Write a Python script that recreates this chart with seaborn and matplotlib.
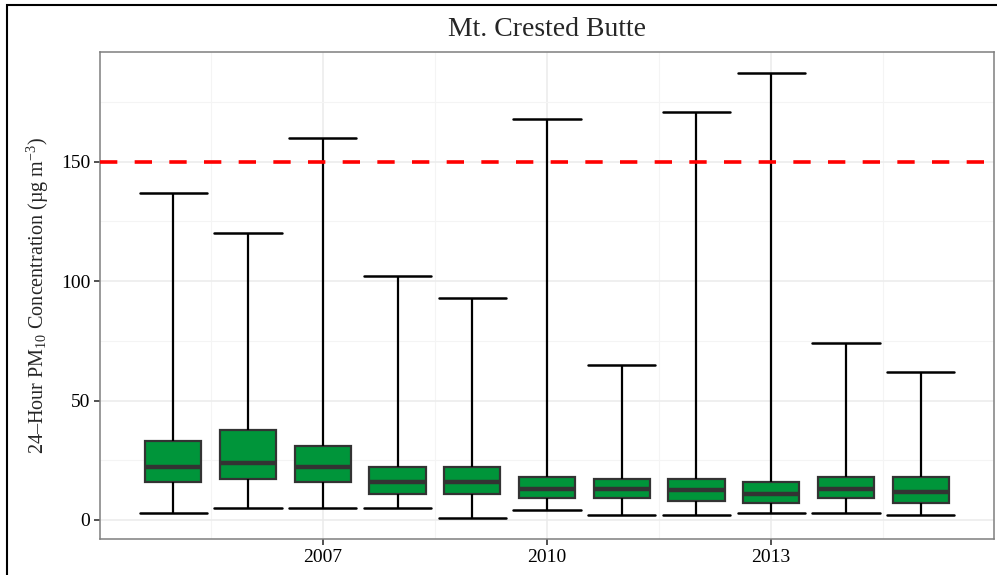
"""Mt. Crested Butte PM10 boxplots by year (saved PNG)."""

import matplotlib

matplotlib.use("Agg")
import matplotlib.pyplot as plt
import numpy as np
import pandas as pd
import seaborn as sns
from matplotlib.patches import Rectangle
from matplotlib.ticker import FixedLocator

# five-number summaries
years = [2005, 2006, 2007, 2008, 2009, 2010, 2011, 2012, 2013, 2014, 2015]
mins = [3, 5, 5, 5, 1, 4, 2, 2, 3, 3, 2]
q1s = [16, 17.3, 16, 11, 11, 9, 9, 8, 7, 9, 7.2]
medians = [22, 24, 22, 16, 16, 13, 13, 12.5, 11, 13, 11.6]
q3s = [33, 37.5, 31, 22, 22, 18, 17, 17, 16, 18, 18]
maxs = [137, 120, 160, 102, 93, 168, 65, 171, 187, 74, 62]
standard = 150
x_ticks = [2007, 2010, 2013]
y_ticks = [0, 50, 100, 150]

# long table: 5 values per year -> quartiles land exactly on q1/median/q3
rows = []
for i, yr in enumerate(years):
    for v in (mins[i], q1s[i], medians[i], q3s[i], maxs[i]):
        rows.append({"year": yr, "pm10": v})
df = pd.DataFrame(rows)

sns.set_theme(style="whitegrid")
plt.rcParams["font.family"] = ["Liberation Serif", "DejaVu Serif"]
plt.rcParams["mathtext.fontset"] = "custom"
plt.rcParams["mathtext.rm"] = "Liberation Serif"
plt.rcParams["mathtext.it"] = "Liberation Serif:italic"

fig = plt.figure(figsize=(9.97, 5.75), dpi=100)
ax = fig.add_axes([100 / 997, 1 - 539 / 575, 894 / 997, 487 / 575])

# panel grid (major + minor)
ax.set_axisbelow(True)
ax.xaxis.set_minor_locator(FixedLocator([2005.5, 2008.5, 2011.5, 2014.5]))
ax.yaxis.set_minor_locator(FixedLocator([25, 75, 125, 175]))
ax.grid(True, which="major", color="#ebebeb", linewidth=1.1)
ax.grid(True, which="minor", color="#f4f4f4", linewidth=0.8)

sns.boxplot(
    data=df,
    x="year",
    y="pm10",
    native_scale=True,
    width=0.75,
    whis=(0, 100),
    color="#00953a",
    saturation=1,
    linecolor="#333333",
    linewidth=1.6,
    fliersize=0,
    medianprops=dict(color="#333333", linewidth=3.2),
    whiskerprops=dict(color="black", linewidth=1.6),
    capprops=dict(color="black", linewidth=1.8),
    capwidths=0.9,
    ax=ax,
)

ax.axhline(standard, color="red", linewidth=2.6, linestyle=(0, (4.8, 4.8)), zorder=5)

ax.set_xlim(2004.02, 2015.98)
ax.set_ylim(-8, 196)
ax.set_xticks(x_ticks)
ax.set_xticklabels([str(t) for t in x_ticks])
ax.set_yticks(y_ticks)
ax.set_yticklabels([str(t) for t in y_ticks])
ax.tick_params(axis="both", which="major", labelsize=14, length=4, width=1.2,
               color="#333333", labelcolor="black", pad=3, direction="out")
ax.tick_params(axis="both", which="minor", length=0)
ax.xaxis.set_ticks_position("bottom")
ax.yaxis.set_ticks_position("left")

for s in ax.spines.values():
    s.set_visible(True)
    s.set_color("#7f7f7f")
    s.set_linewidth(1.1)

ax.set_xlabel("")
ax.set_ylabel("24\u2013Hour PM$_{10}$ Concentration (\u00b5g m$^{-3}$)", fontsize=14.5, labelpad=7)
fig.text(547 / 997, 1 - 29 / 575, "Mt. Crested Butte", ha="center", va="center", fontsize=20)

# outer frame of the original plot (partly cropped)
fig.patches.append(Rectangle((7 / 997, -0.2), 1.2, 1.2 - 5 / 575,
                             transform=fig.transFigure, fill=False,
                             edgecolor="black", linewidth=1.5))

fig.savefig("out.png", dpi=100)
plt.close(fig)
